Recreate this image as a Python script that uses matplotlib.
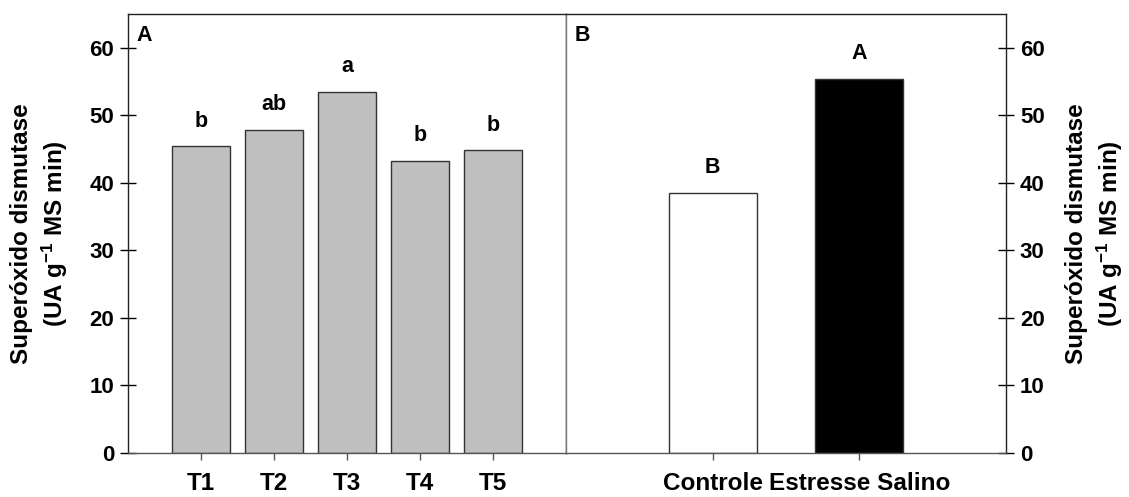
import matplotlib
matplotlib.use("Agg")
import matplotlib.pyplot as plt

plt.rcParams['font.family'] = ['Liberation Sans', 'DejaVu Sans']
plt.rcParams['font.weight'] = 'bold'
plt.rcParams['mathtext.fontset'] = 'custom'
plt.rcParams['mathtext.rm'] = 'Liberation Sans:bold'
plt.rcParams['mathtext.bf'] = 'Liberation Sans:bold'
plt.rcParams['mathtext.default'] = 'bf'

# painel A: tratamentos
trat = ["T1", "T2", "T3", "T4", "T5"]
sod_trat = [45.4, 47.8, 53.4, 43.2, 44.8]
letras_trat = ["b", "ab", "a", "b", "b"]

# painel B: condicao
cond = ["Controle", "Estresse Salino"]
sod_cond = [38.5, 55.4]
letras_cond = ["B", "A"]
cores_cond = ["white", "black"]

ylab = "Superóxido dismutase\n(UA g$^{-1}$ MS min)"

W, H = 1129, 497
fig = plt.figure(figsize=(W / 100, H / 100), dpi=100)
axA = fig.add_axes([128 / W, 44 / H, 438 / W, 439 / H])
axB = fig.add_axes([566 / W, 44 / H, 440 / W, 439 / H])

edge = "#333333"

xa = range(1, len(trat) + 1)
axA.bar(xa, sod_trat, width=0.8, color="#c0c0c0", edgecolor=edge, linewidth=1)
for x, v, l in zip(xa, sod_trat, letras_trat):
    axA.text(x, v + 2.2, l, ha="center", va="bottom", fontsize=15.5, fontweight="bold")
axA.set_xlim(0, 6)
axA.set_ylim(0, 65)
axA.set_xticks(list(xa))
axA.set_xticklabels(trat, fontsize=17.5, fontweight="bold")
axA.set_yticks(range(0, 61, 10))
axA.tick_params(axis="y", direction="inout", length=12, width=1, labelsize=16, pad=4)
axA.tick_params(axis="x", direction="out", length=5, width=1, pad=9, colors="#555555",
                labelcolor="black")
axA.text(0.02, 0.975, "A", transform=axA.transAxes, ha="left", va="top",
         fontsize=15.5, fontweight="bold")

xb = range(1, len(cond) + 1)
axB.bar(xb, sod_cond, width=0.6, color=cores_cond, edgecolor=edge, linewidth=1)
for x, v, l in zip(xb, sod_cond, letras_cond):
    axB.text(x, v + 2.2, l, ha="center", va="bottom", fontsize=15.5, fontweight="bold")
axB.set_xlim(0, 3)
axB.set_ylim(0, 65)
axB.set_xticks(list(xb))
axB.set_xticklabels(cond, fontsize=17.5, fontweight="bold")
axB.yaxis.tick_right()
axB.set_yticks(range(0, 61, 10))
axB.tick_params(axis="y", direction="inout", length=12, width=1, labelsize=16, pad=4)
axB.tick_params(axis="x", direction="out", length=5, width=1, pad=9, colors="#555555",
                labelcolor="black")
axB.text(0.02, 0.975, "B", transform=axB.transAxes, ha="left", va="top",
         fontsize=15.5, fontweight="bold")

# rotulos do eixo y, dos dois lados
ymid = (44 + 439 / 2) / H
fig.text(40 / W, ymid, ylab, rotation=90, ha="center", va="center",
         fontsize=17.5, fontweight="bold", multialignment="center", linespacing=1.3)
fig.text(1095 / W, ymid, ylab, rotation=90, ha="center", va="center",
         fontsize=17.5, fontweight="bold", multialignment="center", linespacing=1.3)

for ax in (axA, axB):
    for s in ax.spines.values():
        s.set_linewidth(1)
        s.set_color("#222222")
    ax.spines["bottom"].set_color("#555555")
axB.spines["left"].set_color("#777777")

fig.savefig("out.png", dpi=100)
